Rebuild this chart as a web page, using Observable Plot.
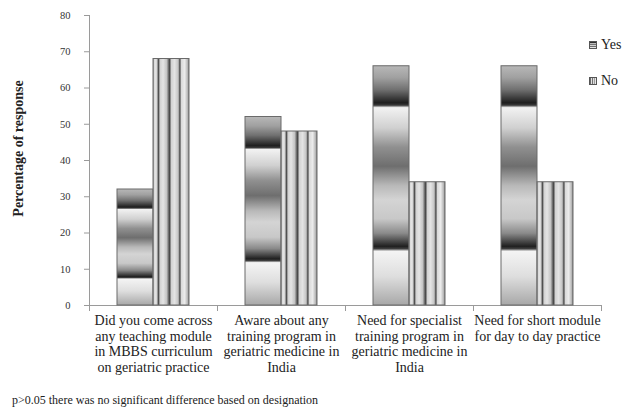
<!DOCTYPE html>
<html>
<head>
<meta charset="utf-8">
<script src="https://cdn.jsdelivr.net/npm/d3@7"></script>
<script src="https://cdn.jsdelivr.net/npm/@observablehq/plot@0.6"></script>
<style>
  html, body { margin: 0; padding: 0; background: #fff; }
  #wrap { position: relative; width: 623px; height: 418px; font-family: "Liberation Serif", "DejaVu Serif", serif; color: #222; overflow: hidden; }
  #chart svg, #chart svg text { font-family: "Liberation Serif", "DejaVu Serif", serif !important; }
  #legend { position: absolute; left: 589px; top: 37px; font-size: 14px; }
  .li { position: absolute; left: 0; white-space: nowrap; display: flex; align-items: center; }
  .li svg { margin-right: 4px; }
  #caption { position: absolute; left: 12px; top: 393px; font-size: 12px; white-space: nowrap; }
</style>
</head>
<body>
<svg width="0" height="0" style="position:absolute">
  <defs>
    <linearGradient id="gradYes" x1="0" y1="0" x2="0" y2="1">
      <stop offset="0" stop-color="#b8b8b8"/>
      <stop offset="0.05" stop-color="#a0a0a0"/>
      <stop offset="0.10" stop-color="#707070"/>
      <stop offset="0.155" stop-color="#1e1e1e"/>
      <stop offset="0.165" stop-color="#3a3a3a"/>
      <stop offset="0.175" stop-color="#f2f2f2"/>
      <stop offset="0.26" stop-color="#d0d0d0"/>
      <stop offset="0.34" stop-color="#909090"/>
      <stop offset="0.42" stop-color="#6e6e6e"/>
      <stop offset="0.50" stop-color="#b8b8b8"/>
      <stop offset="0.56" stop-color="#d4d4d4"/>
      <stop offset="0.64" stop-color="#c8c8c8"/>
      <stop offset="0.70" stop-color="#8a8a8a"/>
      <stop offset="0.755" stop-color="#202020"/>
      <stop offset="0.765" stop-color="#404040"/>
      <stop offset="0.775" stop-color="#f4f4f4"/>
      <stop offset="0.88" stop-color="#dedede"/>
      <stop offset="1" stop-color="#a8a8a8"/>
    </linearGradient>
    <linearGradient id="gradNo" x1="0" y1="0" x2="1" y2="0">
      <stop offset="0" stop-color="#707070"/>
      <stop offset="0.03" stop-color="#d8d8d8"/>
      <stop offset="0.09" stop-color="#e8e8e8"/>
      <stop offset="0.13" stop-color="#909090"/>
      <stop offset="0.16" stop-color="#3c3c3c"/>
      <stop offset="0.19" stop-color="#d0d0d0"/>
      <stop offset="0.28" stop-color="#e4e4e4"/>
      <stop offset="0.38" stop-color="#c4c4c4"/>
      <stop offset="0.44" stop-color="#606060"/>
      <stop offset="0.47" stop-color="#3c3c3c"/>
      <stop offset="0.50" stop-color="#d0d0d0"/>
      <stop offset="0.60" stop-color="#e4e4e4"/>
      <stop offset="0.70" stop-color="#c4c4c4"/>
      <stop offset="0.75" stop-color="#3c3c3c"/>
      <stop offset="0.78" stop-color="#d8d8d8"/>
      <stop offset="0.88" stop-color="#ececec"/>
      <stop offset="0.97" stop-color="#b0b0b0"/>
      <stop offset="1" stop-color="#707070"/>
    </linearGradient>
  </defs>
</svg>
<div id="wrap">
  <div id="chart"></div>
  <div id="legend"></div>
  <div id="caption"></div>
</div>
<script>
// ---- data ----
const categories = [
  "Did you come across\nany teaching module\nin MBBS curriculum\non geriatric practice",
  "Aware about any\ntraining program in\ngeriatric medicine in\nIndia",
  "Need for specialist\ntraining program in\ngeriatric medicine in\nIndia",
  "Need for short module\nfor day to day practice"
];
const responses = ["Yes", "No"];
const yesValues = [32, 52, 66, 66];
const noValues = [68, 48, 34, 34];
const yTicks = [0, 10, 20, 30, 40, 50, 60, 70, 80];
const yLabel = "Percentage of response";
const captionText = "p>0.05 there was no significant difference  based on designation";

// ---- layout / style ----
const W = 623, H = 380, MT = 15, MB = 75, ML = 88, MR = 21;
const fills = {Yes: "url(#gradYes)", No: "url(#gradNo)"};
const axisGray = "#9a9a9a";
const font = "Liberation Serif";

const data = [];
categories.forEach((c, i) => {
  data.push({cat: c, resp: "Yes", value: yesValues[i]});
  data.push({cat: c, resp: "No", value: noValues[i]});
});

const innerH = H - MT - MB;

const chart = Plot.plot({
  width: W,
  height: H,
  marginTop: MT,
  marginBottom: MB,
  marginLeft: ML,
  marginRight: MR,
  style: {fontFamily: font, background: "white", color: "#222"},
  fx: {domain: categories, padding: 0},
  x: {domain: responses, paddingInner: 0, paddingOuter: 0.74, axis: null},
  y: {domain: [0, 80]},
  marks: [
    // y axis line
    Plot.frame({anchor: "left", facetAnchor: "left", stroke: axisGray}),
    // x axis line
    Plot.ruleY([0], {stroke: axisGray}),
    // category boundary ticks
    Plot.frame({anchor: "left", insetTop: innerH, insetBottom: -5, stroke: axisGray}),
    Plot.frame({anchor: "right", facetAnchor: "right", insetTop: innerH, insetBottom: -5, stroke: axisGray}),
    Plot.axisY({ticks: yTicks, tickSize: 5, tickPadding: 14, stroke: axisGray, color: "#333", fontSize: 10.5, fontFamily: font, label: null}),
    Plot.barY(data.filter(d => d.resp === "Yes"), {fx: "cat", x: "resp", y: "value", fill: fills.Yes, stroke: "#6a6a6a", strokeWidth: 1}),
    Plot.barY(data.filter(d => d.resp === "No"), {fx: "cat", x: "resp", y: "value", fill: fills.No, stroke: "#6a6a6a", strokeWidth: 1}),
    Plot.axisFx({anchor: "bottom", tickSize: 0, tickPadding: 9, fontSize: 14, lineHeight: 1.1, fontFamily: font, color: "#222", label: null}),
    Plot.text([yLabel], {text: d => d, frameAnchor: "left", facetAnchor: "left", textAnchor: "middle", rotate: -90, dx: -71, dy: -12, fontWeight: "bold", fontSize: 14, fontFamily: font, fill: "#222"})
  ]
});
document.getElementById("chart").appendChild(chart);

// ---- legend ----
const legend = document.getElementById("legend");
responses.forEach((r, i) => {
  const item = document.createElement("div");
  item.className = "li";
  item.style.top = (i * 36) + "px";
  item.innerHTML = `<svg width="8" height="8"><rect x="0.5" y="0.5" width="7" height="7" fill="${fills[r]}" stroke="#555"/></svg><span>${r}</span>`;
  legend.appendChild(item);
});
document.getElementById("caption").textContent = captionText;
</script>
</body>
</html>
